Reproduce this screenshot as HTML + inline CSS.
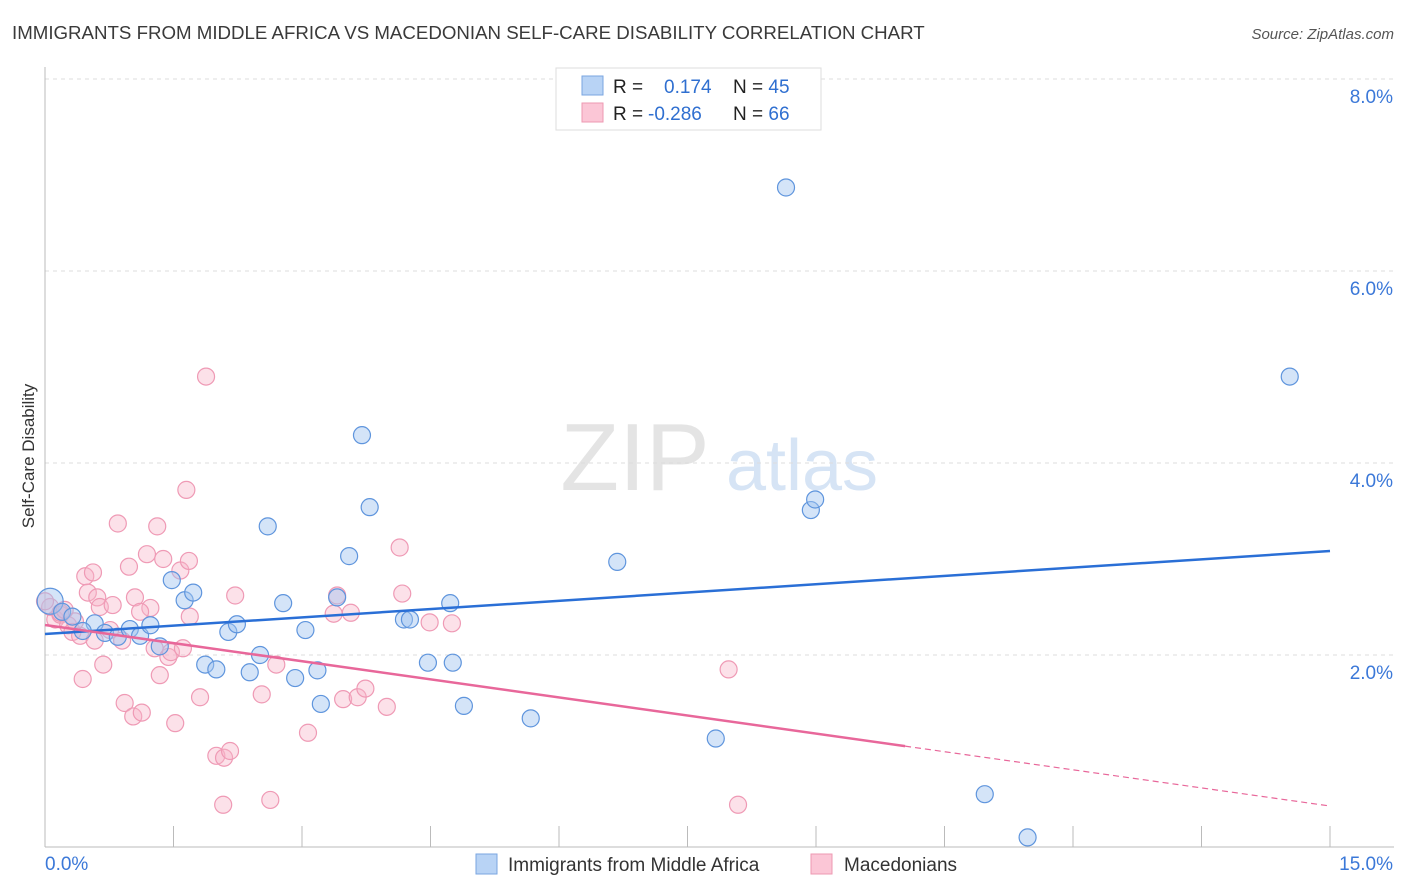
<!DOCTYPE html>
<html><head><meta charset="utf-8">
<style>
body{margin:0;background:#fff;font-family:"Liberation Sans",sans-serif;}
#wrap{position:relative;width:1406px;height:892px;overflow:hidden;}
svg text{font-family:"Liberation Sans",sans-serif;}
</style></head>
<body>
<div id="wrap">
<svg id="chart" width="1406" height="892">
<text x="12" y="39" font-size="18.7" fill="#3a3a3a">IMMIGRANTS FROM MIDDLE AFRICA VS MACEDONIAN SELF-CARE DISABILITY CORRELATION CHART</text>
<text x="1394" y="39" font-size="15" fill="#555" font-style="italic" text-anchor="end">Source: ZipAtlas.com</text>
<text x="34" y="456" font-size="17" fill="#333" text-anchor="middle" transform="rotate(-90 34 456)">Self-Care Disability</text>
<text x="635" y="490" font-size="96" fill="#e4e4e4" font-family="Liberation Serif" text-anchor="middle">ZIP</text>
<text x="802" y="490" font-size="72" fill="#d6e4f5" text-anchor="middle">atlas</text>
<g id="grid"></g><g id="axes"></g><g id="pts"></g><g id="lines"></g>
<g>
<rect x="556" y="68" width="265" height="62" fill="#fff" stroke="#ddd"/>
<rect x="582" y="76" width="21" height="19" fill="#b8d3f5" stroke="#7aa6e0"/>
<rect x="582" y="103" width="21" height="19" fill="#fbc6d6" stroke="#ee98b2"/>
<text x="613" y="93" font-size="19" fill="#222">R =  <tspan x="664" fill="#2f6fd0">0.174</tspan><tspan x="733" fill="#222">N = </tspan><tspan fill="#2f6fd0">45</tspan></text>
<text x="613" y="120" font-size="19" fill="#222">R = <tspan x="648" fill="#2f6fd0">-0.286</tspan><tspan x="733" fill="#222">N = </tspan><tspan fill="#2f6fd0">66</tspan></text>
</g>
<g>
<rect x="476" y="854" width="21" height="20" fill="#b8d3f5" stroke="#7aa6e0"/>
<text x="508" y="871" font-size="19" fill="#333">Immigrants from Middle Africa</text>
<rect x="811" y="854" width="21" height="20" fill="#fbc6d6" stroke="#ee98b2"/>
<text x="844" y="871" font-size="19" fill="#333">Macedonians</text>
</g>
</svg>
</div>
<script>
const xTicks=[0,1.5,3,4.5,6,7.5,9,10.5,12,13.5,15];
const yTickVals=[2,4,6,8];
const yTickLabels=["2.0%","4.0%","6.0%","8.0%"];
const blueX=[0.06,0.2,0.32,0.58,0.44,0.7,0.85,0.99,1.11,1.23,1.34,1.48,1.63,1.73,1.87,2.0,2.14,2.24,2.39,2.51,2.6,2.78,2.92,3.04,3.18,3.22,3.41,3.55,3.7,3.79,4.19,4.26,4.47,4.73,4.76,4.89,5.67,6.68,7.83,8.65,8.94,8.99,10.97,11.47,14.53];
const blueY=[2.56,2.45,2.4,2.33,2.25,2.23,2.19,2.27,2.2,2.31,2.09,2.78,2.57,2.65,1.9,1.85,2.24,2.32,1.82,2.0,3.34,2.54,1.76,2.26,1.84,1.49,2.6,3.03,4.29,3.54,2.37,2.37,1.92,2.54,1.92,1.47,1.34,2.97,1.13,6.87,3.51,3.62,0.55,0.1,4.9];
const pinkX=[0.06,0.12,0.18,0.27,0.32,0.41,0.47,0.44,0.5,0.56,0.61,0.64,0.68,0.79,0.85,0.9,0.93,0.98,1.03,1.05,1.13,1.19,1.23,1.28,1.31,1.34,1.38,1.44,1.47,1.52,1.58,1.61,1.65,1.68,1.69,1.81,1.88,2.0,2.08,2.09,2.16,2.22,2.53,2.63,2.7,3.07,3.37,3.41,3.48,3.57,3.65,3.74,3.99,4.14,4.17,4.49,4.75,7.98,8.09,0.18,0.0,0.76,1.11,0.58,0.35,0.23];
const pinkY=[2.5,2.37,2.42,2.31,2.24,2.2,2.82,1.75,2.65,2.86,2.6,2.5,1.9,2.52,3.37,2.15,1.5,2.92,1.36,2.6,1.4,3.05,2.49,2.07,3.34,1.79,3.0,1.98,2.03,1.29,2.88,2.07,3.72,2.98,2.4,1.56,4.9,0.95,0.44,0.93,1.0,2.62,1.59,0.49,1.9,1.19,2.43,2.62,1.54,2.44,1.56,1.65,1.46,3.12,2.64,2.34,2.33,1.85,0.44,2.44,2.56,2.26,2.45,2.15,2.35,2.47];
const blueTrend=[2.219,3.083];
const pinkTrend=[2.3125,0.427];
const pinkSolidEnd=10.04;
const NS="http://www.w3.org/2000/svg";
const X0=45,X1=1330,Y0=847,PXPER=96;
function sx(v){return X0+v/15*(X1-X0);}
function sy(v){return Y0-v*PXPER;}
function mk(tag,attrs,parent){const e=document.createElementNS(NS,tag);for(const k in attrs)e.setAttribute(k,attrs[k]);document.getElementById(parent).appendChild(e);return e;}
yTickVals.forEach((v,i)=>{
 let l=mk('line',{x1:X0,x2:1394,y1:sy(v),y2:sy(v),stroke:'#ddd','stroke-dasharray':'4,4'},'grid');
 
 
 let t=mk('text',{x:1393,y:sy(v)+24,'font-size':19,fill:'#3b78d8','text-anchor':'end'},'axes');
 t.textContent=yTickLabels[i];
 
 
});
let topGrid=mk('line',{x1:X0,x2:1394,y1:79,y2:79,stroke:'#ddd','stroke-dasharray':'4,4'},'grid');


let ya=mk('line',{x1:X0,x2:X0,y1:67,y2:847,stroke:'#bbb'},'axes');


let xa=mk('line',{x1:X0,x2:1394,y1:847,y2:847,stroke:'#bbb'},'axes');


xTicks.forEach(v=>{
 let l=mk('line',{x1:sx(v),x2:sx(v),y1:826,y2:847,stroke:'#bbb'},'axes');
 
 
});
let xl0=mk('text',{x:45,y:870,'font-size':19,fill:'#3b78d8'},'axes');xl0.textContent=xTicks[0].toFixed(1)+'%';


let xl1=mk('text',{x:1393,y:870,'font-size':19,fill:'#3b78d8','text-anchor':'end'},'axes');xl1.textContent=xTicks[xTicks.length-1].toFixed(1)+'%';


pinkX.forEach((x,i)=>{
 let c=mk('circle',{cx:sx(x),cy:sy(pinkY[i]),r:8.5,fill:'rgba(248,180,200,0.4)',stroke:'#ef9ab5','stroke-width':1.2},'pts');
 
 
});
blueX.forEach((x,i)=>{
 let c=mk('circle',{cx:sx(x),cy:sy(blueY[i]),r:i==0?13:8.5,fill:'rgba(160,196,240,0.45)',stroke:'#5f95dd','stroke-width':1.2},'pts');
 
 
});
let bl=mk('line',{x1:sx(0),y1:sy(blueTrend[0]),x2:sx(15),y2:sy(blueTrend[1]),stroke:'#2a6fd6','stroke-width':2.5},'lines');


const pAt=v=>pinkTrend[0]+(pinkTrend[1]-pinkTrend[0])*v/15;
let pl=mk('line',{x1:sx(0),y1:sy(pinkTrend[0]),x2:sx(pinkSolidEnd),y2:sy(pAt(pinkSolidEnd)),stroke:'#e8679a','stroke-width':2.5},'lines');


let pd=mk('line',{x1:sx(pinkSolidEnd),y1:sy(pAt(pinkSolidEnd)),x2:sx(15),y2:sy(pinkTrend[1]),stroke:'#e8679a','stroke-width':1.2,'stroke-dasharray':'6,4'},'lines');


</script>
</body></html>
